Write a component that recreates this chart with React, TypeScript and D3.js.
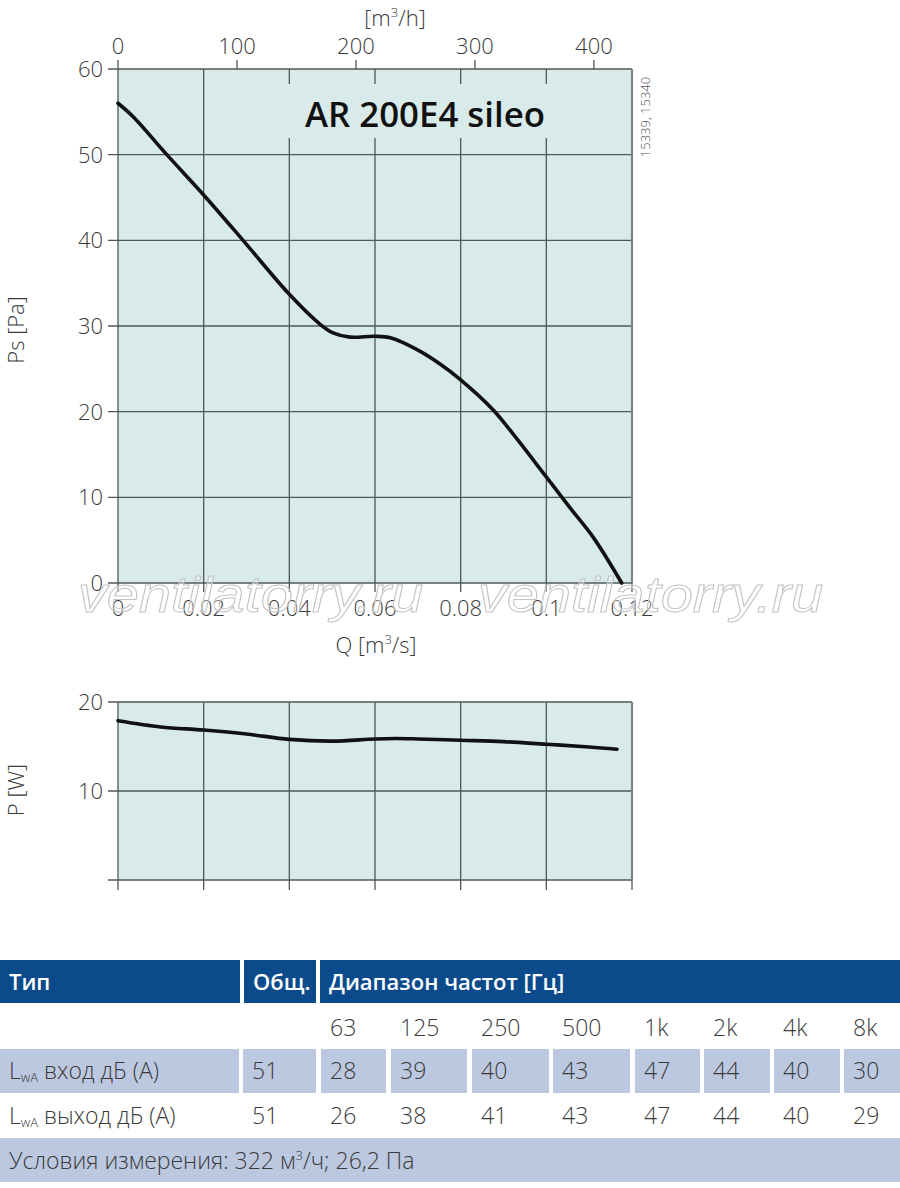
import React from "react";
import * as d3 from "d3";

// fan curve, AR 200E4 sileo
const flowQ = [0, 0.0036, 0.0114, 0.02, 0.0292, 0.04, 0.0472, 0.0502, 0.0542, 0.06, 0.0638, 0.0696, 0.0751, 0.0798, 0.0876, 0.093, 0.0998, 0.1055, 0.111, 0.1176];
const pressurePs = [56.0, 54.4, 50.0, 45.3, 40.0, 33.7, 30.2, 29.2, 28.7, 28.8, 28.6, 27.3, 25.6, 23.8, 20.2, 16.9, 12.5, 8.8, 5.3, 0];

const powerQ = [0, 0.01, 0.02, 0.03, 0.04, 0.05, 0.06, 0.065, 0.07, 0.08, 0.09, 0.1, 0.11, 0.1165];
const powerW = [17.9, 17.2, 16.85, 16.4, 15.8, 15.6, 15.85, 15.9, 15.85, 15.7, 15.55, 15.25, 14.95, 14.7];

const qTicks = [0, 0.02, 0.04, 0.06, 0.08, 0.1, 0.12];
const qTickLabels = ["0", "0.02", "0.04", "0.06", "0.08", "0.1", "0.12"];
const psTicks = [0, 10, 20, 30, 40, 50, 60];
const m3hTicks = [0, 100, 200, 300, 400];
const pTicks = [0, 10, 20];
const pTickLabels = ["", "10", "20"];

// sound table
const bands = ["63", "125", "250", "500", "1k", "2k", "4k", "8k"];
const inletTotal = 51;
const inletBands = [28, 39, 40, 43, 47, 44, 40, 30];
const outletTotal = 51;
const outletBands = [26, 38, 41, 43, 47, 44, 40, 29];

const FONT = "'Open Sans', 'Noto Sans', sans-serif";
const GRID = "#4f5757";
const BG = "#d8ebea";
const TXT = "#3a3a3a";
const BLUE = "#0b4a8b";
const ROW = "#bcc8e0";

// table column layout (x start / end of each cell)
const colStart = [0, 243, 321, 391, 472, 553, 635, 704, 774, 844];
const colEnd = [239, 316, 386, 467, 549, 630, 700, 770, 840, 900];

export default function App() {
  const x = d3.scaleLinear().domain([0, 0.12]).range([118, 632]);
  const yPs = d3.scaleLinear().domain([0, 60]).range([583, 69]);
  const yP = d3.scaleLinear().domain([0, 20]).range([880, 702]);

  const psLine = d3
    .line<number>()
    .x((_, i) => x(flowQ[i]))
    .y((d) => yPs(d))
    .curve(d3.curveCatmullRom.alpha(0.5));

  const pLine = d3
    .line<number>()
    .x((_, i) => x(powerQ[i]))
    .y((d) => yP(d))
    .curve(d3.curveCatmullRom.alpha(0.5));

  const [x0, x1] = x.range();

  const lwa = (label: string) => (
    <>
      L<tspan fontSize={13} dy={3}>wA</tspan>
      <tspan dy={-3}> {label}</tspan>
    </>
  );

  return (
    <svg width={900} height={1188} style={{ position: "absolute", left: 0, top: 0, background: "#fff" }} fontFamily={FONT}>
      {/* ---- upper chart ---- */}
      <rect x={x0} y={yPs(60)} width={x1 - x0} height={yPs(0) - yPs(60)} fill={BG} />
      {psTicks.map((t) => (
        <line key={"h" + t} x1={x0 - 10} x2={x1} y1={yPs(t)} y2={yPs(t)} stroke={GRID} strokeWidth={1.3} />
      ))}
      {qTicks.map((t) => (
        <line key={"v" + t} x1={x(t)} x2={x(t)} y1={yPs(60)} y2={yPs(0) + 9} stroke={GRID} strokeWidth={1.3} />
      ))}
      <line x1={x1} x2={x1} y1={yPs(60)} y2={yPs(0)} stroke="#7d8585" strokeWidth={2.2} />
      {/* title backing */}
      <rect x={287} y={84} width={268} height={54} fill={BG} />
      <text x={305} y={127} fontSize={34} fontWeight={600} fill="#111" textLength={240} lengthAdjust="spacingAndGlyphs">
        AR 200E4 sileo
      </text>

      {/* top m3/h axis */}
      {m3hTicks.map((t) => (
        <g key={"m" + t}>
          <line x1={x(t / 3600)} x2={x(t / 3600)} y1={yPs(60) - 9} y2={yPs(60)} stroke={GRID} strokeWidth={1.3} />
          <text x={x(t / 3600)} y={54} textAnchor="middle" fontSize={22} fontWeight={300} fill={TXT}>
            {t}
          </text>
        </g>
      ))}
      <text x={395} y={26} textAnchor="middle" fontSize={22} fontWeight={300} fill={TXT}>
        [m<tspan fontSize={13} dy={-9}>3</tspan>
        <tspan dy={9}>/h]</tspan>
      </text>

      {/* left Ps axis labels */}
      {psTicks.map((t) => (
        <text key={"pl" + t} x={103} y={yPs(t) + 8} textAnchor="end" fontSize={22} fontWeight={300} fill={TXT}>
          {t}
        </text>
      ))}
      <text transform="translate(24,330) rotate(-90)" textAnchor="middle" fontSize={22} fontWeight={300} fill={TXT}>
        Ps [Pa]
      </text>

      {/* bottom Q axis labels */}
      {qTicks.map((t, i) => (
        <text key={"ql" + t} x={x(t)} y={616} textAnchor="middle" fontSize={22} fontWeight={300} fill={TXT}>
          {qTickLabels[i]}
        </text>
      ))}
      <text x={376} y={653} textAnchor="middle" fontSize={22} fontWeight={300} fill={TXT}>
        Q [m<tspan fontSize={13} dy={-9}>3</tspan>
        <tspan dy={9}>/s]</tspan>
      </text>

      <text transform="translate(650,117) rotate(-90)" textAnchor="middle" fontSize={13} fontWeight={300} fill="#555">
        15339, 15340
      </text>

      <path d={psLine(pressurePs) ?? ""} fill="none" stroke="#111" strokeWidth={3.6} strokeLinecap="round" />

      {/* watermark */}
      {[78, 478].map((wx) => (
        <text
          key={"w" + wx}
          x={wx}
          y={612}
          fontFamily="'Liberation Sans', Arial, sans-serif"
          fontStyle="italic"
          fontSize={50}
          textLength={345}
          lengthAdjust="spacingAndGlyphs"
          fill="rgba(255,255,255,0.35)"
          stroke="#c4c4c4"
          strokeWidth={1}
        >
          ventilatorry.ru
        </text>
      ))}

      {/* ---- lower chart ---- */}
      <rect x={x0} y={yP(20)} width={x1 - x0} height={yP(0) - yP(20)} fill={BG} />
      {pTicks.map((t) => (
        <line key={"ph" + t} x1={x0 - 10} x2={x1} y1={yP(t)} y2={yP(t)} stroke={GRID} strokeWidth={1.3} />
      ))}
      {qTicks.map((t) => (
        <line key={"pv" + t} x1={x(t)} x2={x(t)} y1={yP(20)} y2={yP(0) + 10} stroke={GRID} strokeWidth={1.3} />
      ))}
      <line x1={x1} x2={x1} y1={yP(20)} y2={yP(0)} stroke="#7d8585" strokeWidth={2.2} />
      {pTicks.map((t, i) => (
        <text key={"pt" + t} x={103} y={yP(t) + 8} textAnchor="end" fontSize={22} fontWeight={300} fill={TXT}>
          {pTickLabels[i]}
        </text>
      ))}
      <text transform="translate(24,790) rotate(-90)" textAnchor="middle" fontSize={22} fontWeight={300} fill={TXT}>
        P [W]
      </text>
      <path d={pLine(powerW) ?? ""} fill="none" stroke="#111" strokeWidth={3.6} strokeLinecap="round" />

      {/* ---- sound table ---- */}
      <rect x={0} y={960} width={240} height={43} fill={BLUE} />
      <rect x={244} y={960} width={72} height={43} fill={BLUE} />
      <rect x={320} y={960} width={580} height={43} fill={BLUE} />
      <text x={9} y={990} fontSize={22} fontWeight={600} fill="#fff">Тип</text>
      <text x={253} y={990} fontSize={22} fontWeight={600} fill="#fff">Общ.</text>
      <text x={329} y={990} fontSize={22} fontWeight={600} fill="#fff">Диапазон частот [Гц]</text>

      {bands.map((b, i) => (
        <text key={"b" + b} x={colStart[i + 2] + 9} y={1036} fontSize={23} fontWeight={300} fill={TXT}>
          {b}
        </text>
      ))}

      {colStart.map((cx, i) => (
        <rect key={"r3" + i} x={cx} y={1049} width={colEnd[i] - cx} height={44} fill={ROW} />
      ))}
      <text x={9} y={1079} fontSize={23} fontWeight={300} fill={TXT}>{lwa("вход дБ (А)")}</text>
      <text x={colStart[1] + 9} y={1079} fontSize={23} fontWeight={300} fill={TXT}>{inletTotal}</text>
      {inletBands.map((v, i) => (
        <text key={"in" + i} x={colStart[i + 2] + 9} y={1079} fontSize={23} fontWeight={300} fill={TXT}>
          {v}
        </text>
      ))}

      <text x={9} y={1124} fontSize={23} fontWeight={300} fill={TXT}>{lwa("выход дБ (А)")}</text>
      <text x={colStart[1] + 9} y={1124} fontSize={23} fontWeight={300} fill={TXT}>{outletTotal}</text>
      {outletBands.map((v, i) => (
        <text key={"out" + i} x={colStart[i + 2] + 9} y={1124} fontSize={23} fontWeight={300} fill={TXT}>
          {v}
        </text>
      ))}

      <rect x={0} y={1138} width={900} height={44} fill={ROW} />
      <text x={9} y={1169} fontSize={23} fontWeight={300} fill={TXT}>
        Условия измерения: 322 м<tspan fontSize={13} dy={-9}>3</tspan>
        <tspan dy={9}>/ч; 26,2 Па</tspan>
      </text>
    </svg>
  );
}
